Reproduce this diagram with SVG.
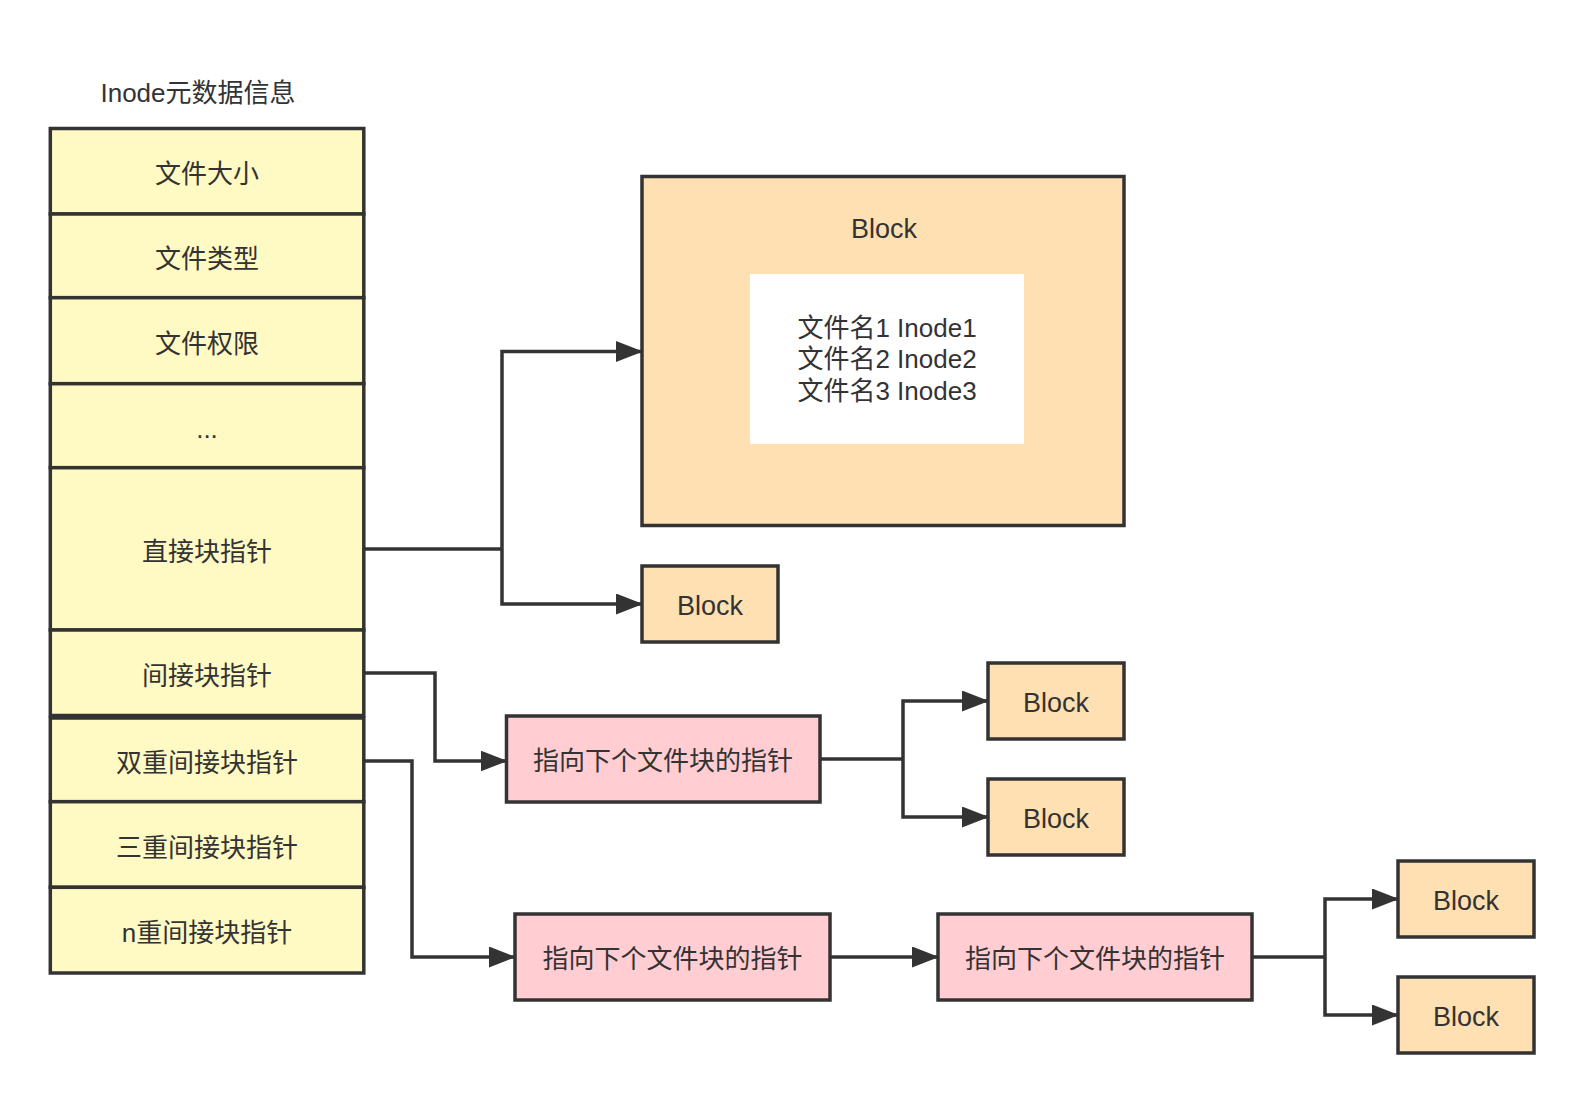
<svg xmlns="http://www.w3.org/2000/svg" width="1584" height="1103" viewBox="0 0 1584 1103">
<style>
text{font-family:"Liberation Sans","Noto Sans CJK SC",sans-serif;font-size:26px;fill:#333333;text-anchor:middle}
.lat{font-size:27px}
.row{fill:#FFF9C4;stroke:#333333;stroke-width:3.5}
.blk{fill:#FFE0B2;stroke:#333333;stroke-width:3.5}
.pnk{fill:#FFCDD2;stroke:#333333;stroke-width:3.5}
.edge{fill:none;stroke:#333333;stroke-width:3.5;marker-end:url(#arr)}
.plain{fill:none;stroke:#333333;stroke-width:3.5}
</style>
<defs>
<marker id="arr" markerUnits="userSpaceOnUse" viewBox="0 0 27 21" markerWidth="27" markerHeight="21" refX="26" refY="10.5" orient="auto">
<path d="M0,0 L27,10.5 L0,21 Z" fill="#333333"/>
</marker>
</defs>
<rect width="1584" height="1103" fill="#ffffff"/>
<text id="title" x="198" y="101.5">Inode元数据信息</text>
<g id="inode-table">
<g id="row-size"><rect class="row" x="50.3" y="128.5" width="313.5" height="85.5"/><text x="207" y="183">文件大小</text></g>
<g id="row-type"><rect class="row" x="50.3" y="214" width="313.5" height="83.7"/><text x="207" y="268">文件类型</text></g>
<g id="row-perm"><rect class="row" x="50.3" y="297.7" width="313.5" height="86"/><text x="207" y="352.7">文件权限</text></g>
<g id="row-etc"><rect class="row" x="50.3" y="383.7" width="313.5" height="84"/><text x="207" y="437.7">...</text></g>
<g id="row-direct"><rect class="row" x="50.3" y="467.7" width="313.5" height="162.3"/><text x="207" y="561">直接块指针</text></g>
<g id="row-indirect"><rect class="row" x="50.3" y="630" width="313.5" height="85.5"/><text x="207" y="685">间接块指针</text></g>
<g id="row-double"><rect class="row" x="50.3" y="718" width="313.5" height="83.7"/><text x="207" y="772">双重间接块指针</text></g>
<g id="row-triple"><rect class="row" x="50.3" y="801.7" width="313.5" height="85.6"/><text x="207" y="856.5">三重间接块指针</text></g>
<g id="row-n"><rect class="row" x="50.3" y="887.3" width="313.5" height="85.7"/><text x="207" y="942">n重间接块指针</text></g>
</g>
<g id="block-big">
<rect class="blk" x="642" y="176.5" width="482" height="349"/>
<rect x="750" y="274" width="274" height="170" fill="#ffffff"/>
<text class="lat" x="884" y="238">Block</text>
<text x="887" y="336.5">文件名1 Inode1</text>
<text x="887" y="368.2">文件名2 Inode2</text>
<text x="887" y="400">文件名3 Inode3</text>
</g>
<g id="block-small"><rect class="blk" x="642" y="566" width="136" height="76"/><text class="lat" x="710" y="615">Block</text></g>
<g id="ptr-1"><rect class="pnk" x="506.5" y="716" width="313.5" height="86"/><text x="663" y="770">指向下个文件块的指针</text></g>
<g id="block-a1"><rect class="blk" x="988" y="663" width="136" height="76"/><text class="lat" x="1056" y="712">Block</text></g>
<g id="block-a2"><rect class="blk" x="988" y="779" width="136" height="76"/><text class="lat" x="1056" y="828">Block</text></g>
<g id="ptr-2"><rect class="pnk" x="515" y="914" width="315" height="86"/><text x="672.5" y="968">指向下个文件块的指针</text></g>
<g id="ptr-3"><rect class="pnk" x="938" y="914" width="314" height="86"/><text x="1095" y="968">指向下个文件块的指针</text></g>
<g id="block-b1"><rect class="blk" x="1398" y="861" width="136" height="76"/><text class="lat" x="1466" y="910">Block</text></g>
<g id="block-b2"><rect class="blk" x="1398" y="977" width="136" height="76"/><text class="lat" x="1466" y="1026">Block</text></g>
<g id="connectors">
<path class="plain" d="M364,549 H502"/>
<path class="edge" d="M502,549 V351.5 H642"/>
<path class="edge" d="M502,549 V604 H642"/>
<path class="edge" d="M364,673 H435 V761 H506.5"/>
<path class="edge" d="M364,761 H412 V957 H515"/>
<path class="plain" d="M820,759 H903"/>
<path class="edge" d="M903,759 V701 H988"/>
<path class="edge" d="M903,759 V817 H988"/>
<path class="edge" d="M830,957 H938"/>
<path class="plain" d="M1252,957 H1325"/>
<path class="edge" d="M1325,957 V899 H1398"/>
<path class="edge" d="M1325,957 V1015 H1398"/>
</g>
</svg>
